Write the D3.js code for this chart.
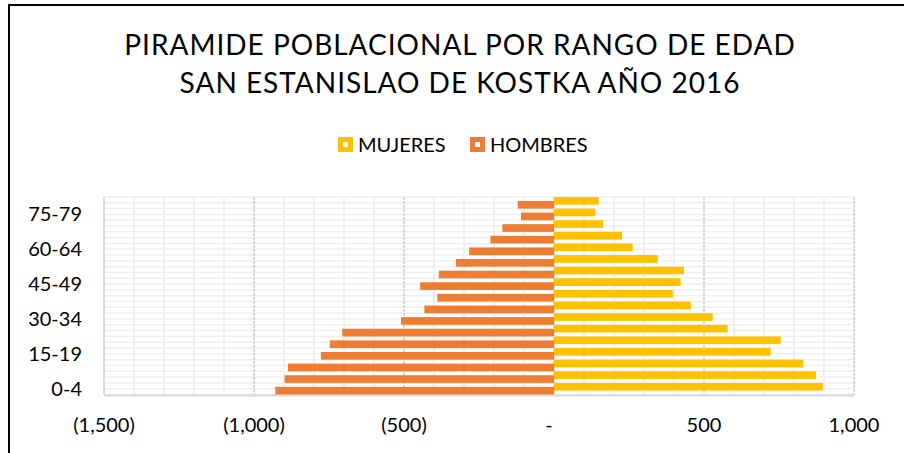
<!DOCTYPE html>
<html>
<head>
<meta charset="utf-8">
<script src="https://cdn.jsdelivr.net/npm/d3@7"></script>
<style>
  body { margin: 0; background: #fff; }
  text { font-family: Lato, "Open Sans", sans-serif; fill: #000; }
</style>
</head>
<body>
<div id="chart"></div>
<script>
// age groups, bottom to top
const ageGroups = ["0-4", "5-9", "10-14", "15-19", "20-24", "25-29", "30-34", "35-39", "40-44",
  "45-49", "50-54", "55-59", "60-64", "65-69", "70-74", "75-79", "80+"];
const mujeres = [896, 873, 831, 722, 756, 579, 529, 456, 396, 422, 433, 346, 262, 227, 164, 137, 149];
const hombres = [-929, -898, -887, -777, -747, -706, -510, -432, -389, -446, -384, -327, -283, -212, -172, -110, -121];
const shownAgeLabels = ["0-4", "15-19", "30-34", "45-49", "60-64", "75-79"];
const xTicks = [-1500, -1000, -500, 0, 500, 1000];
const titleLines = ["PIRAMIDE POBLACIONAL POR RANGO DE EDAD", "SAN ESTANISLAO DE KOSTKA AÑO 2016"];
const seriesNames = ["MUJERES", "HOMBRES"];
const colors = {MUJERES: "#FFC000", HOMBRES: "#ED7D31"};

const width = 904, height = 453;
const plot = {left: 104, right: 854, top: 197, bottom: 394.5};

const svg = d3.select("#chart").append("svg")
  .attr("width", width)
  .attr("height", height);

// chart frame (only left and top edges visible)
svg.append("path")
  .attr("d", `M9,453 V5 H904`)
  .attr("fill", "none")
  .attr("stroke", "#000")
  .attr("stroke-width", 2);

// title
svg.append("g").selectAll("text")
  .data(titleLines)
  .enter().append("text")
  .attr("x", 460)
  .attr("y", (d, i) => 55 + i * 38)
  .attr("text-anchor", "middle")
  .style("font-size", "28px")
  .style("letter-spacing", "1px")
  .text(d => d);

const x = d3.scaleLinear().domain([-1500, 1000]).range([plot.left, plot.right]);
const y = d3.scaleBand().domain(ageGroups.slice().reverse()).range([plot.top, plot.bottom]).padding(0);
const bw = y.bandwidth();

// grid
const grid = svg.append("g");
grid.selectAll(".hgrid")
  .data(d3.range(0, ageGroups.length * 2 + 1))
  .enter().append("line")
  .attr("x1", plot.left).attr("x2", plot.right)
  .attr("y1", i => plot.top + i * bw / 2).attr("y2", i => plot.top + i * bw / 2)
  .attr("stroke", "#efefef").attr("stroke-width", 1.5);

grid.selectAll(".vminor")
  .data(d3.range(-1500, 1001, 100).filter(v => v % 500 !== 0))
  .enter().append("line")
  .attr("x1", d => x(d)).attr("x2", d => x(d))
  .attr("y1", plot.top).attr("y2", plot.bottom)
  .attr("stroke", "#efefef").attr("stroke-width", 2);

grid.selectAll(".vmajor")
  .data(xTicks)
  .enter().append("line")
  .attr("x1", d => x(d)).attr("x2", d => x(d))
  .attr("y1", plot.top).attr("y2", plot.bottom)
  .attr("stroke", "#d9d9d9").attr("stroke-width", 2)
  .attr("stroke-dasharray", d => d === -1500 ? null : "3,1");

// bottom axis line
svg.append("line")
  .attr("x1", plot.left).attr("x2", plot.right)
  .attr("y1", plot.bottom + 1).attr("y2", plot.bottom + 1)
  .attr("stroke", "#d9d9d9").attr("stroke-width", 2);

// bars: hombres first, mujeres on top, clusters overlap
const barH = bw * 0.66;
svg.append("g").selectAll("rect")
  .data(ageGroups.map((g, i) => ({g, v: hombres[i]})))
  .enter().append("rect")
  .attr("x", d => x(d.v))
  .attr("y", d => y(d.g) + bw - barH)
  .attr("width", d => x(0) - x(d.v))
  .attr("height", barH)
  .attr("fill", colors.HOMBRES);

svg.append("g").selectAll("rect")
  .data(ageGroups.map((g, i) => ({g, v: mujeres[i]})))
  .enter().append("rect")
  .attr("x", x(0))
  .attr("y", d => y(d.g))
  .attr("width", d => x(d.v) - x(0))
  .attr("height", barH)
  .attr("fill", colors.MUJERES);

// y labels
svg.append("g").selectAll("text")
  .data(shownAgeLabels)
  .enter().append("text")
  .attr("x", 82)
  .attr("y", d => y(d) + bw / 2)
  .attr("dy", "0.35em")
  .attr("text-anchor", "end")
  .style("font-size", "20px")
  .text(d => d);

// x labels
const fmt = v => v === 0 ? "-" : v < 0 ? `(${d3.format(",")(-v)})` : d3.format(",")(v);
svg.append("g").selectAll("text")
  .data(xTicks)
  .enter().append("text")
  .attr("x", d => x(d) + (d === 0 ? -5 : 0))
  .attr("y", 425)
  .attr("dy", "0.35em")
  .attr("text-anchor", "middle")
  .style("font-size", "20px")
  .text(fmt);

// legend
const legendPos = [338, 470];
const legend = svg.append("g").selectAll("g")
  .data(seriesNames)
  .enter().append("g")
  .attr("transform", (d, i) => `translate(${legendPos[i]}, 137)`);
legend.append("rect")
  .attr("width", 15).attr("height", 15)
  .attr("fill", d => colors[d]);
legend.append("rect")
  .attr("x", 5).attr("y", 5).attr("width", 5).attr("height", 5)
  .attr("fill", "#fff");
legend.append("text")
  .attr("x", 20).attr("y", 8)
  .attr("dy", "0.35em")
  .style("font-size", "20px")
  .text(d => d);
</script>
</body>
</html>
